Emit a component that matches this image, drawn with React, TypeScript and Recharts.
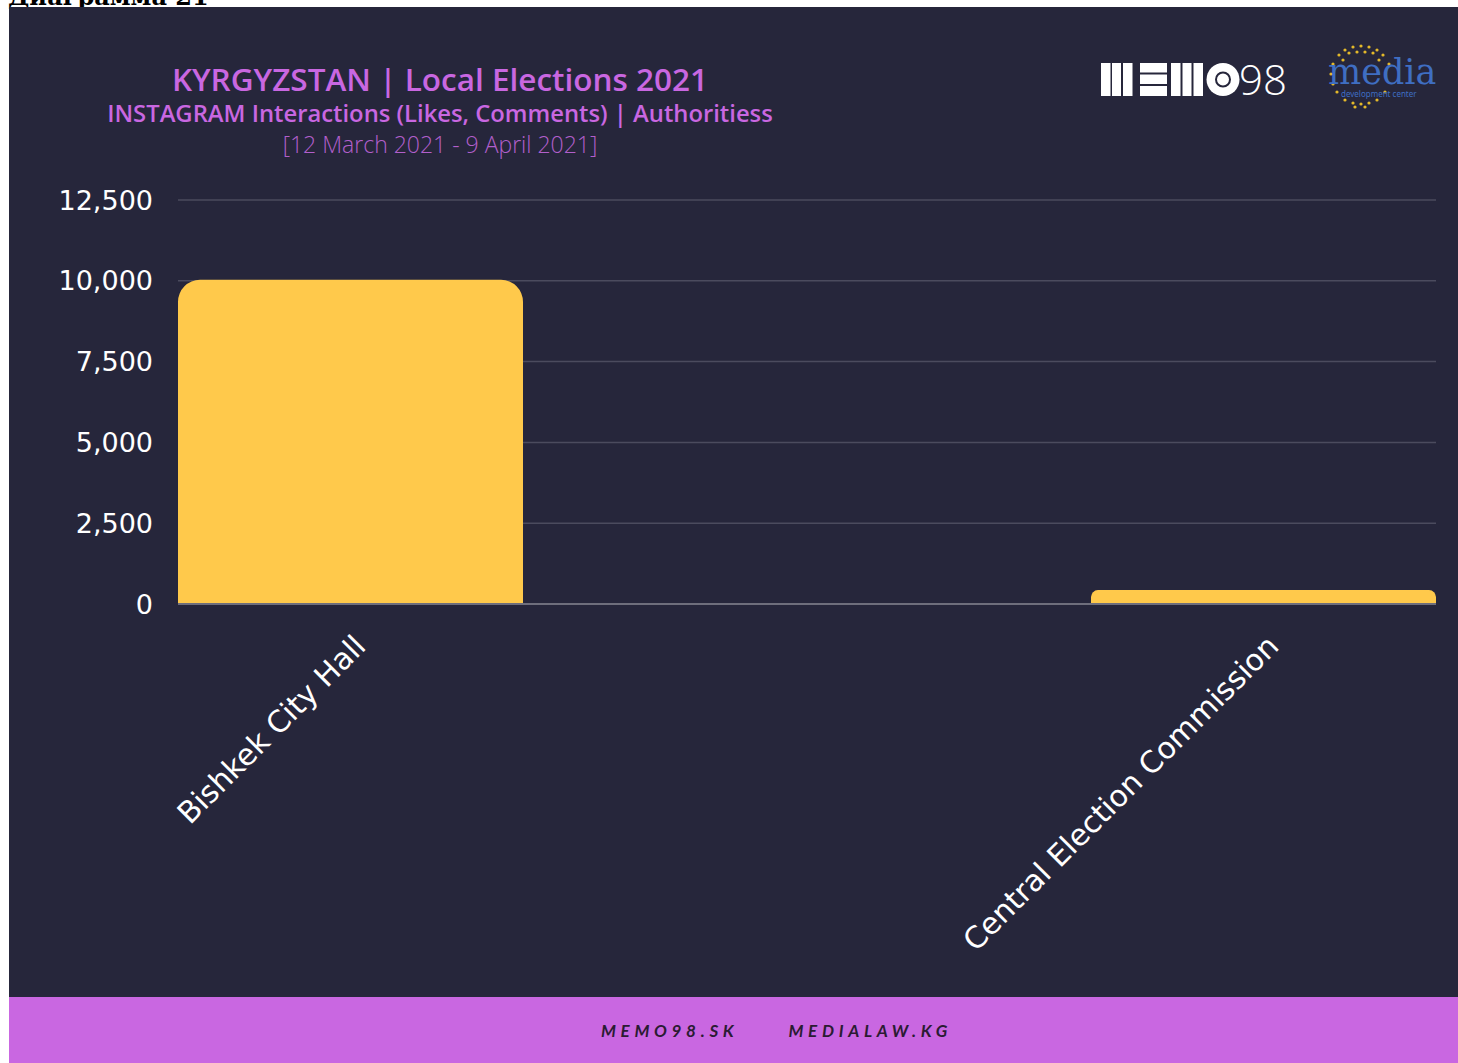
import React from "react";
import { BarChart, Bar, XAxis, YAxis, CartesianGrid } from "recharts";

const categories = ["Bishkek City Hall", "Central Election Commission"];
const interactions = [10030, 430];
const yTicks = [0, 2500, 5000, 7500, 10000, 12500];

const data = categories.map((name, i) => ({ name, value: interactions[i] }));

const BG = "#26263b";
const PURPLE = "#c967e1";
const BAR = "#ffc94b";
const TICK_FONT = "'DejaVu Sans', sans-serif";

function AngledTick(props: any) {
  const { x, y, payload } = props;
  const tx = x + 17;
  const ty = y + 36;
  return (
    <text
      x={tx}
      y={ty}
      transform={`rotate(-45 ${tx} ${ty})`}
      textAnchor="end"
      fill="#ffffff"
      fontSize={30}
      fontFamily={TICK_FONT}
    >
      {payload.value}
    </text>
  );
}

function MemoLogo() {
  return (
    <svg width={200} height={56} style={{ position: "absolute", left: 1100, top: 50 }}>
      <g transform="translate(0 6)">
        {/* M */}
        <rect x={1} y={7} width={9.5} height={33} fill="#fff" />
        <rect x={12} y={7} width={9} height={33} fill="#fff" />
        <rect x={23} y={7} width={9.5} height={33} fill="#fff" />
        {/* E */}
        <rect x={40} y={7} width={27} height={9.5} fill="#fff" />
        <rect x={40} y={18.5} width={27} height={9.5} fill="#fff" />
        <rect x={40} y={30} width={27} height={10} fill="#fff" />
        {/* M */}
        <rect x={71} y={7} width={9.5} height={33} fill="#fff" />
        <rect x={82.5} y={7} width={9} height={33} fill="#fff" />
        <rect x={93.5} y={7} width={9.5} height={33} fill="#fff" />
        {/* O */}
        <circle cx={123} cy={23.5} r={16.5} fill="#fff" />
        <circle cx={123} cy={23.5} r={7} fill="none" stroke={BG} strokeWidth={2} />
        <text x={139} y={39} fill="#fff" fontSize={42} fontFamily="'Open Sans', sans-serif" fontWeight={300}>
          98
        </text>
      </g>
    </svg>
  );
}

const dots = [
  [20, 8], [28, 5], [36, 4], [44, 5], [52, 8], [14, 13], [58, 13], [24, 11], [32, 10], [40, 10], [48, 11],
  [8, 22], [64, 22], [6, 32], [8, 42], [12, 50], [60, 50], [20, 58], [28, 61], [36, 62], [44, 61], [52, 58],
  [30, 65], [40, 65], [18, 18], [54, 18],
];

function MediaLogo() {
  return (
    <svg width={124} height={72} style={{ position: "absolute", left: 1325, top: 42 }}>
      {dots.map(([cx, cy], i) => (
        <circle key={i} cx={cx} cy={cy} r={1.6} fill="#e3b92a" />
      ))}
      <text x={3} y={42} fill="#3f6ec2" fontSize={35} fontFamily="'DejaVu Serif', serif">
        media
      </text>
      <text x={16} y={55} fill="#3f6ec2" fontSize={8} fontFamily="'Noto Sans', sans-serif">
        development center
      </text>
    </svg>
  );
}

export default function App() {
  return (
    <div style={{ position: "absolute", left: 0, top: 0, width: 1458, height: 1063, overflow: "hidden", background: "#fff" }}>
      <div
        style={{
          position: "absolute",
          left: 8,
          top: -18,
          fontFamily: "'DejaVu Serif', serif",
          fontWeight: 700,
          fontSize: 24,
          color: "#000",
          whiteSpace: "nowrap",
        }}
      >
        Диаграмма 21
      </div>
      <div style={{ position: "absolute", left: 9, top: 7, width: 1449, height: 990, background: BG }} />
      <div style={{ position: "absolute", left: 9, top: 997, width: 1449, height: 66, background: PURPLE }} />

      <div
        style={{
          position: "absolute",
          left: 9,
          top: 1020,
          width: 1449,
          display: "flex",
          justifyContent: "center",
          gap: 50,
          fontFamily: "Lato, sans-serif",
          fontStyle: "italic",
          fontWeight: 700,
          fontSize: 17,
          letterSpacing: 4.7,
          color: "#2b1b33",
          paddingLeft: 86,
          boxSizing: "border-box",
        }}
      >
        <span>MEMO98.SK</span>
        <span>MEDIALAW.KG</span>
      </div>

      <div
        style={{
          position: "absolute",
          left: 40,
          top: 58,
          width: 800,
          textAlign: "center",
          fontFamily: "'Open Sans', sans-serif",
          color: PURPLE,
          whiteSpace: "nowrap",
        }}
      >
        <div style={{ fontSize: 31.5, fontWeight: 600, lineHeight: "42px" }}>KYRGYZSTAN | Local Elections 2021</div>
        <div style={{ fontSize: 23.8, fontWeight: 600, lineHeight: "32px", marginTop: -3 }}>
          INSTAGRAM Interactions (Likes, Comments) | Authoritiess
        </div>
        <div style={{ fontSize: 23, fontWeight: 300, lineHeight: "30px", color: "#b25fcb" }}>
          [12 March 2021 - 9 April 2021]
        </div>
      </div>

      <MemoLogo />
      <MediaLogo />

      <div style={{ position: "absolute", left: 9, top: 7 }}>
        <BarChart
          width={1449}
          height={990}
          data={data}
          margin={{ top: 193, right: 22, bottom: 0, left: 0 }}
        >
          <CartesianGrid vertical={false} stroke="#4b4b5e" strokeWidth={1.5} />
          <XAxis
            dataKey="name"
            padding={{ left: -284, right: -284 }}
            height={393}
            axisLine={{ stroke: "#6e6e7c", strokeWidth: 2 }}
            tickLine={false}
            tick={<AngledTick />}
            interval={0}
          />
          <YAxis
            width={169}
            domain={[0, 12500]}
            ticks={yTicks}
            axisLine={false}
            tickLine={false}
            tickSize={0}
            tickMargin={25}
            tickFormatter={(v: number) => v.toLocaleString("en-US")}
            tick={{ fill: "#ffffff", fontSize: 27, fontFamily: TICK_FONT }}
          />
          <Bar dataKey="value" fill={BAR} barSize={345} radius={[22, 22, 0, 0]} isAnimationActive={false} />
        </BarChart>
      </div>
    </div>
  );
}
